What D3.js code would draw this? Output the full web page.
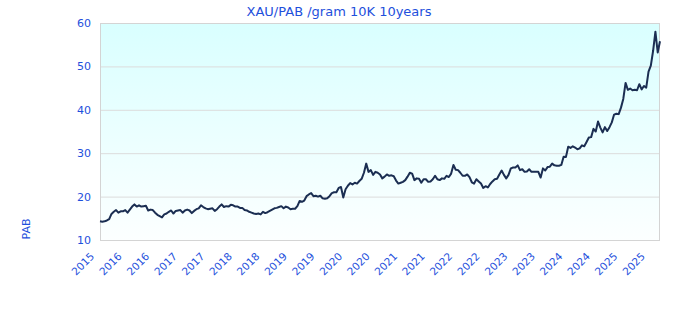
<!DOCTYPE html>
<html>
<head>
<meta charset="utf-8">
<script src="https://cdn.jsdelivr.net/npm/d3@7/dist/d3.min.js"></script>
<style>
  body { margin: 0; background: #ffffff; }
  #graphRender { width: 680px; height: 320px; }
</style>
</head>
<body>
<div id="graphRender"></div>
<script>
// 10K gold price in PAB per gram, about two readings a month (Nov 2015 - Nov 2025)
var prices2016 = [14.3, 14.2, 14.3, 14.5, 14.8, 16.0, 16.5, 16.9, 16.3, 16.6, 16.6, 16.9, 16.3, 17.0,
    17.7, 18.2, 17.7, 18.0, 17.7, 17.8, 17.9, 16.8, 17.0, 16.9, 16.3, 15.8, 15.5, 15.2];
var prices2017 = [15.9, 16.1, 16.5, 16.8, 16.1, 16.7, 16.8, 16.9, 16.3, 16.8, 17.0, 16.8,
    16.2, 16.7, 17.1, 17.3, 18.0, 17.6, 17.3, 17.1, 17.2, 17.3, 16.7, 17.1];
var prices2018 = [17.7, 18.2, 17.6, 17.8, 17.7, 18.1, 18.0, 17.7, 17.7, 17.4, 17.4, 16.9,
    16.8, 16.5, 16.3, 16.1, 16.0, 16.1, 15.9, 16.5, 16.2, 16.4, 16.7, 17.0];
var prices2019 = [17.3, 17.4, 17.6, 17.8, 17.3, 17.7, 17.5, 17.1, 17.2, 17.2, 17.8, 19.0,
    18.8, 19.1, 20.1, 20.5, 20.8, 20.1, 20.2, 20.0, 20.2, 19.6, 19.5, 19.6, 20.1];
var prices2020 = [20.8, 21.0, 21.0, 22.0, 22.2, 19.8, 21.7, 22.5, 23.1, 22.8, 23.2, 23.0,
    23.6, 24.1, 25.5, 27.6, 25.7, 26.1, 25.0, 25.7, 25.5, 25.1, 24.2, 24.6, 25.1];
var prices2021 = [24.8, 24.9, 24.7, 23.7, 23.0, 23.2, 23.4, 23.8, 24.6, 25.5, 25.3, 23.8,
    24.2, 24.1, 23.2, 24.0, 24.0, 23.4, 23.5, 24.0, 24.8, 24.0, 23.8, 24.2];
var prices2022 = [24.1, 24.8, 24.5, 25.3, 27.3, 26.2, 26.1, 25.5, 24.8, 24.8, 25.1, 24.5,
    23.3, 23.0, 24.0, 23.5, 23.0, 22.0, 22.4, 22.1, 22.9, 23.5, 24.0, 24.1];
var prices2023 = [25.1, 26.0, 25.0, 24.2, 25.0, 26.5, 26.7, 26.7, 27.2, 26.1, 26.3, 25.7,
    25.8, 26.3, 25.7, 25.7, 25.7, 25.7, 24.4, 26.5, 26.0, 26.8, 26.9, 27.6];
var prices2024 = [27.2, 27.1, 27.1, 27.3, 29.2, 29.1, 31.5, 31.2, 31.6, 31.3, 30.9, 31.1,
    31.8, 31.6, 32.6, 33.6, 33.7, 35.6, 35.0, 37.3, 35.9, 34.8, 36.0, 35.1];
var prices2025 = [36.0, 37.1, 38.9, 39.1, 39.0, 40.5, 42.5, 46.2, 44.6, 44.9, 44.5, 44.6,
    44.5, 45.9, 44.7, 45.5, 45.1, 48.8, 50.2, 53.6, 58.0, 53.2, 55.8];

// one year label every 12 readings
var xLabels = ["2015", "2016", "2016", "2017", "2017", "2018", "2018", "2019", "2019", "2020", "2020",
    "2021", "2021", "2022", "2022", "2023", "2023", "2024", "2024", "2025", "2025"];
var labelEvery = 12;
var yTicks = [10, 20, 30, 40, 50, 60];

var chartTitle = "XAU/PAB /gram 10K 10years";
var yTitle = "PAB";

var data = [].concat(prices2016, prices2017, prices2018, prices2019, prices2020,
    prices2021, prices2022, prices2023, prices2024, prices2025);

// set the dimensions and margins of the graph
var margin = {top: 23, right: 20, bottom: 80, left: 100},
    width = 680 - margin.left - margin.right,
    height = 320 - margin.top - margin.bottom;

var textColor = "#1e50dc";
var fontFamily = "'DejaVu Sans', Verdana, sans-serif";

var svg = d3.select("#graphRender")
  .append("svg")
    .attr("width", 680)
    .attr("height", 320);

// background gradient of the plot area
var grad = svg.append("defs")
  .append("linearGradient")
    .attr("id", "plotBg")
    .attr("x1", 0).attr("y1", 0)
    .attr("x2", 0).attr("y2", 1);
grad.append("stop").attr("offset", "0%").attr("stop-color", "#d9ffff");
grad.append("stop").attr("offset", "100%").attr("stop-color", "#fcffff");

var g = svg.append("g")
    .attr("transform", "translate(" + margin.left + "," + margin.top + ")");

var x = d3.scaleLinear()
    .domain([0, data.length - 1])
    .range([0, width]);

var y = d3.scaleLinear()
    .domain([10, 60])
    .range([height, 0]);

g.append("rect")
    .attr("width", width)
    .attr("height", height)
    .attr("fill", "url(#plotBg)");

// horizontal grid lines
g.selectAll(".grid")
    .data(yTicks.slice(1, -1))
    .enter()
    .append("line")
      .attr("class", "grid")
      .attr("x1", 0)
      .attr("x2", width)
      .attr("y1", function(d) { return y(d) + 0.5; })
      .attr("y2", function(d) { return y(d) + 0.5; })
      .attr("stroke", "#dcdcdc")
      .attr("stroke-width", 1);

// frame
g.append("rect")
    .attr("x", 0.5)
    .attr("y", 0.5)
    .attr("width", width - 1)
    .attr("height", height)
    .attr("fill", "none")
    .attr("stroke", "#d4d4d4")
    .attr("stroke-width", 1);

// price line
var line = d3.line()
    .x(function(d, i) { return x(i); })
    .y(function(d) { return y(d); });

g.append("path")
    .datum(data)
    .attr("d", line)
    .attr("fill", "none")
    .attr("stroke", "#1b2e52")
    .attr("stroke-width", 2)
    .attr("stroke-linejoin", "round");

// y tick labels
g.selectAll(".ylab")
    .data(yTicks)
    .enter()
    .append("text")
      .attr("class", "ylab")
      .attr("x", -9)
      .attr("y", function(d) { return y(d); })
      .attr("dy", "0.36em")
      .style("text-anchor", "end")
      .attr("font-family", fontFamily)
      .attr("font-size", "11px")
      .attr("fill", textColor)
      .text(function(d) { return d; });

// x tick labels, rotated
g.selectAll(".xlab")
    .data(xLabels)
    .enter()
    .append("text")
      .attr("class", "xlab")
      .attr("transform", function(d, i) {
          return "translate(" + (x(i * labelEvery) - 5) + "," + (height + 17) + ") rotate(-45)";
      })
      .style("text-anchor", "end")
      .attr("font-family", fontFamily)
      .attr("font-size", "10.5px")
      .attr("fill", textColor)
      .text(function(d) { return d; });

// title
svg.append("text")
    .attr("x", 339)
    .attr("y", 16)
    .style("text-anchor", "middle")
    .attr("font-family", fontFamily)
    .attr("font-size", "13px")
    .attr("fill", textColor)
    .text(chartTitle);

// y axis title
svg.append("text")
    .attr("transform", "translate(30,229) rotate(-90)")
    .style("text-anchor", "middle")
    .attr("font-family", fontFamily)
    .attr("font-size", "11px")
    .attr("fill", textColor)
    .text(yTitle);
</script>
</body>
</html>
